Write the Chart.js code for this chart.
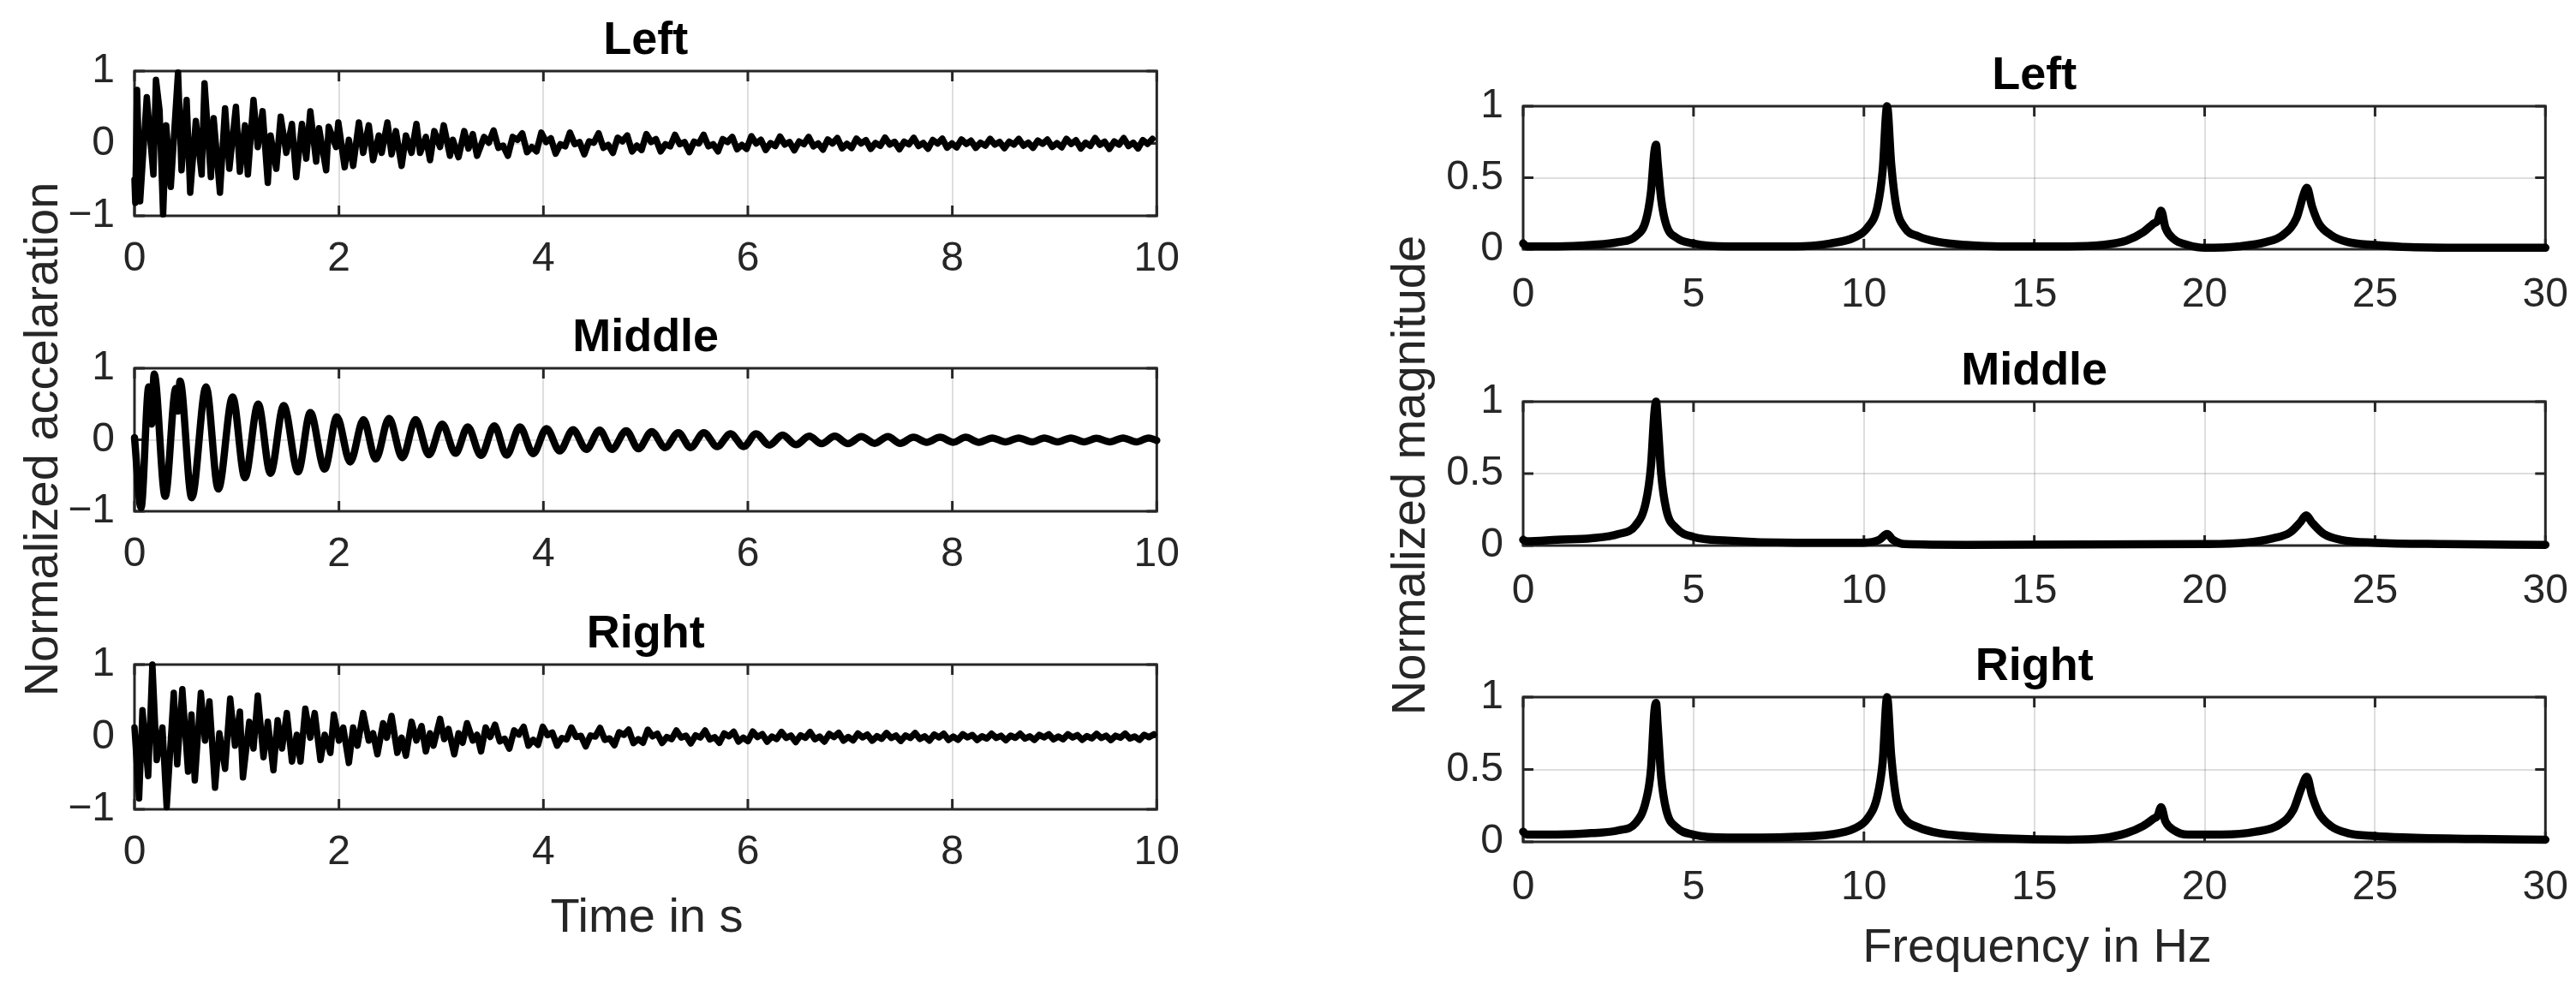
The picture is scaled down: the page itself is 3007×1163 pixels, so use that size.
<!DOCTYPE html>
<html>
<head>
<meta charset="utf-8">
<script src="https://cdn.jsdelivr.net/npm/chart.js@4.4.0/dist/chart.umd.min.js"></script>
<style>
  html, body { margin: 0; padding: 0; background: #fff; }
  body { width: 3007px; height: 1163px; position: relative; overflow: hidden; }
  canvas { position: absolute; }
  .lbl { position: absolute; font-family: 'Liberation Sans', Arial, Helvetica, sans-serif;
         font-size: 56px; line-height: 56px; height: 56px; color: #262626; text-align: center;
         white-space: nowrap; }
</style>
</head>
<body>
<div class="lbl" id="lblTime" style="left:455px; top:1041px; width:600px;">Time in s</div>
<div class="lbl" id="lblFreq" style="left:2078px; top:1076px; width:600px;">Frequency in Hz</div>
<div class="lbl" id="lblAcc" style="left:-352px; top:485px; width:800px; transform:rotate(-90deg);">Normalized accelaration</div>
<div class="lbl" id="lblMag" style="left:1244px; top:527px; width:800px; transform:rotate(-90deg);">Normalized magnitude</div>
<script>
/* ===== Data ===== */

// time axis ticks (s) and frequency axis ticks (Hz)
const timeTicks = [0, 2, 4, 6, 8, 10];
const freqTicks = [0, 5, 10, 15, 20, 25, 30];
const accTicks  = [-1, 0, 1];
const magTicks  = [0, 0.5, 1];
const titles    = ['Left', 'Middle', 'Right'];

// Left sensor, acceleration: first 3.4 s as read peak by peak
const leftHeadT = [0, 0.008, 0.025, 0.055, 0.12, 0.185, 0.21, 0.245, 0.28, 0.31,
  0.355, 0.426, 0.46, 0.51, 0.545, 0.60, 0.657, 0.685, 0.747, 0.774,
  0.836, 0.886, 0.928, 0.992, 1.031, 1.081, 1.109, 1.164, 1.206, 1.253,
  1.304, 1.331, 1.387, 1.43, 1.485, 1.54, 1.582, 1.638, 1.68, 1.72,
  1.777, 1.805, 1.875, 1.90, 1.972, 1.994, 2.056, 2.097, 2.139, 2.195,
  2.237, 2.292, 2.334, 2.39, 2.418, 2.474, 2.515, 2.557, 2.613, 2.655,
  2.71, 2.758, 2.794, 2.85, 2.891, 2.933, 2.989, 3.025, 3.086, 3.114,
  3.17, 3.226, 3.267, 3.309, 3.351, 3.42];
const leftHeadY = [-0.50, -0.82, 0.74, -0.80, 0.64, -0.43, 0.88, 0.46, -0.98, 0.25,
  -0.60, 0.98, -0.37, 0.60, -0.68, 0.31, -0.43, 0.83, -0.465, 0.35,
  -0.68, 0.485, -0.35, 0.505, -0.39, 0.25, -0.43, 0.60, -0.05, 0.445,
  -0.545, 0.11, -0.35, 0.37, -0.13, 0.27, -0.465, 0.27, -0.21, 0.445,
  -0.25, 0.21, -0.37, 0.23, -0.05, 0.29, -0.33, 0.05, -0.31, 0.29,
  -0.13, 0.25, -0.23, 0.11, -0.13, 0.29, -0.15, 0.17, -0.31, 0.11,
  -0.13, 0.27, -0.13, 0.09, -0.23, 0.17, -0.05, 0.25, -0.17, 0.05,
  -0.19, 0.17, -0.07, 0.13, -0.17, 0.09];
// rest of the record, sampled every 0.0467 s from 3.466 s
const leftTailStart = 3.466;
const leftTailStep  = 0.0467;
const leftTailY = [0.01, 0.18, -0.06, -0.03, -0.17, 0.09, 0.05, 0.14, -0.12, -0.05, -0.11, 0.15,
  0.02, 0.07, -0.14, -0.01, -0.04, 0.15, -0.01, 0.02, -0.15, 0.03, 0.01, 0.14, -0.06, -0.02, -0.13, 0.08, 0.03, 0.11, -0.11, -0.03, -0.09, 0.13,
  0.02, 0.06, -0.11, -0.01, -0.04, 0.12, -0.01, 0.02, -0.12, 0.025, 0.0, 0.12, -0.04, -0.01, -0.11, 0.06, 0.02, 0.09, -0.08, -0.02, -0.075, 0.10,
  0.0, 0.05, -0.09, 0.005, -0.035, 0.095, -0.015, 0.02, -0.095, 0.027, -0.01, 0.09, -0.04, 0.0, -0.085, 0.055, 0.0, 0.075, -0.067, -0.005, -0.063,
  0.067, 0.0, 0.045, -0.075, 0.007, -0.033, 0.08, -0.015, 0.022, -0.08, 0.025, -0.013, 0.078, -0.035, 0.006, -0.073, 0.047, -0.001, 0.065, -0.058, 0.0, -0.054,
  0.055, -0.007, 0.038, -0.061, 0.01, -0.03, 0.064, -0.016, 0.022, -0.065, 0.024, -0.015, 0.063, -0.032, 0.01, -0.06, 0.04, -0.006, 0.054, -0.048, 0.005,
  -0.053, 0.063, -0.007, 0.044, -0.07, 0.011, -0.034, 0.074, -0.018, 0.024, -0.075, 0.027, -0.017, 0.073, -0.036, 0.01, -0.069, 0.046, -0.006, 0.062];

// Middle sensor, acceleration (peaks and troughs)
const midT = [0, 0.064, 0.14, 0.168, 0.192, 0.30, 0.405, 0.425, 0.445, 0.56,
  0.70, 0.82, 0.96, 1.08, 1.21, 1.33, 1.46, 1.60, 1.72, 1.86,
  1.98, 2.11, 2.24, 2.36, 2.49, 2.62, 2.75, 2.88, 3.01, 3.14,
  3.26, 3.39, 3.52, 3.64, 3.77, 3.90, 4.03, 4.16, 4.29, 4.42,
  4.55, 4.67, 4.81, 4.93, 5.06, 5.19, 5.32, 5.44, 5.57, 5.70,
  5.83, 5.96, 6.08, 6.21, 6.34, 6.47, 6.60, 6.72, 6.85, 6.98,
  7.11, 7.24, 7.37, 7.49, 7.62, 7.75, 7.88, 8.01, 8.13, 8.26,
  8.39, 8.52, 8.65, 8.78, 8.90, 9.03, 9.16, 9.29, 9.41, 9.54,
  9.67, 9.80, 9.92, 10.0];
const midY = [0.03, -0.95, 0.74, 0.22, 0.92, -0.79, 0.72, 0.40, 0.82, -0.81,
  0.74, -0.69, 0.60, -0.53, 0.50, -0.47, 0.48, -0.45, 0.38, -0.41,
  0.32, -0.31, 0.28, -0.27, 0.30, -0.25, 0.28, -0.21, 0.22, -0.19,
  0.18, -0.22, 0.195, -0.215, 0.18, -0.195, 0.155, -0.155, 0.14, -0.135,
  0.135, -0.135, 0.125, -0.125, 0.115, -0.11, 0.10, -0.11, 0.10, -0.095,
  0.085, -0.095, 0.085, -0.075, 0.065, -0.07, 0.05, -0.055, 0.05, -0.055,
  0.045, -0.05, 0.045, -0.05, 0.035, -0.035, 0.035, -0.035, 0.035, -0.035,
  0.025, -0.03, 0.025, -0.03, 0.025, -0.03, 0.025, -0.03, 0.02, -0.03,
  0.025, -0.03, 0.025, -0.01];

// Right sensor, acceleration: first 3.4 s
const rightHeadT = [0, 0.045, 0.078, 0.134, 0.175, 0.217, 0.273, 0.315, 0.384, 0.418,
  0.468, 0.524, 0.557, 0.59, 0.649, 0.69, 0.733, 0.788, 0.83, 0.886,
  0.936, 0.983, 1.031, 1.061, 1.123, 1.164, 1.206, 1.262, 1.304, 1.359,
  1.40, 1.443, 1.49, 1.54, 1.588, 1.624, 1.671, 1.72, 1.763, 1.819,
  1.861, 1.916, 1.95, 2.0, 2.042, 2.097, 2.139, 2.181, 2.237, 2.292,
  2.334, 2.376, 2.432, 2.468, 2.515, 2.571, 2.613, 2.655, 2.71, 2.758,
  2.808, 2.85, 2.891, 2.925, 2.989, 3.03, 3.072, 3.128, 3.17, 3.21,
  3.253, 3.31, 3.351, 3.39, 3.435];
const rightHeadY = [0.13, -0.85, 0.37, -0.54, 1.0, -0.32, 0.13, -0.97, 0.61, -0.38,
  0.66, -0.48, 0.31, -0.60, 0.61, -0.05, 0.49, -0.70, 0.05, -0.44,
  0.53, -0.12, 0.35, -0.56, 0.21, -0.16, 0.57, -0.28, 0.21, -0.46,
  0.23, -0.16, 0.33, -0.34, 0.03, -0.34, 0.39, -0.01, 0.33, -0.32,
  0.03, -0.22, 0.31, -0.05, 0.13, -0.36, 0.13, -0.12, 0.33, -0.05,
  0.05, -0.24, 0.19, -0.01, 0.29, -0.22, -0.01, -0.26, 0.21, -0.05,
  0.15, -0.20, 0.05, -0.12, 0.25, -0.03, 0.11, -0.24, 0.05, -0.08,
  0.19, -0.05, 0.03, -0.20, 0.13];
const rightTailStart = 3.48;
const rightTailStep  = 0.0467;
const rightTailY = [0.0, 0.17, -0.06, -0.025, -0.16, 0.09, 0.035, 0.14, -0.12, -0.04, -0.11, 0.14,
  0.025, 0.06, -0.12, -0.015, -0.035, 0.13, 0.0, 0.015, -0.13, 0.02, 0.005, 0.125, -0.04, -0.02, -0.115, 0.065, 0.03, 0.10, -0.085, -0.03, -0.08, 0.10,
  0.008, 0.045, -0.083, -0.001, -0.03, 0.089, -0.009, 0.018, -0.09, 0.022, -0.007, 0.088, -0.035, -0.003, -0.081, 0.049, 0.009, 0.071, -0.063, -0.01, -0.058, 0.074,
  -0.002, 0.039, -0.065, 0.006, -0.029, 0.069, -0.013, 0.019, -0.07, 0.022, -0.012, 0.068, -0.031, 0.005, -0.064, 0.041, -0.001, 0.057, -0.051, 0.0, -0.048,
  0.047, -0.006, 0.033, -0.052, 0.01, -0.026, 0.054, -0.015, 0.019, -0.055, 0.021, -0.013, 0.054, -0.027, 0.009, -0.05, 0.034, -0.006, 0.045, -0.041, 0.005, -0.039,
  0.038, -0.006, 0.027, -0.042, 0.009, -0.022, 0.044, -0.013, 0.016, -0.045, 0.018, -0.012, 0.044, -0.023, 0.008, -0.041, 0.028, -0.006, 0.037, -0.034, 0.005,
  -0.032, 0.036, -0.008, 0.025, -0.04, 0.011, -0.02, 0.042, -0.015, 0.018, -0.043, 0.016, -0.01, 0.046, -0.021, 0.006, -0.039, 0.03, -0.004, 0.035];

// Spectra (normalized magnitude vs Hz)
const specLeftF = [0, 0.1, 1, 2, 2.8, 3.3, 3.6, 3.75, 3.85, 3.9, 3.95, 4.05, 4.2, 4.5, 5, 6, 7, 8, 9, 9.7,
  10.1, 10.4, 10.55, 10.68, 10.8, 10.95, 11.2, 11.6, 12.2, 13, 14, 16, 17, 17.7, 18.2, 18.5, 18.62, 18.72, 18.85, 19.1,
  19.5, 20, 21, 21.8, 22.3, 22.7, 22.9, 23.0, 23.15, 23.35, 23.7, 24.2, 25, 26, 28, 30];
const specLeftM = [0.04, 0.02, 0.02, 0.03, 0.05, 0.09, 0.2, 0.4, 0.68, 0.73, 0.6, 0.35, 0.17, 0.08, 0.04, 0.02, 0.02, 0.02, 0.04, 0.08,
  0.15, 0.3, 0.55, 1.0, 0.6, 0.3, 0.15, 0.09, 0.05, 0.03, 0.02, 0.02, 0.03, 0.06, 0.12, 0.18, 0.2, 0.27, 0.15, 0.07,
  0.03, 0.01, 0.02, 0.05, 0.1, 0.22, 0.38, 0.43, 0.3, 0.18, 0.1, 0.05, 0.03, 0.015, 0.01, 0.01];

const specMidF = [0, 0.1, 1, 2, 2.8, 3.3, 3.6, 3.75, 3.85, 3.9, 3.95, 4.05, 4.2, 4.5, 5, 6, 8, 10,
  10.45, 10.68, 10.85, 11.2, 13, 20, 21.2, 22, 22.5, 22.8, 22.98, 23.15, 23.5, 24, 25, 27, 30];
const specMidM = [0.04, 0.03, 0.04, 0.05, 0.08, 0.14, 0.3, 0.55, 0.92, 1.0, 0.85, 0.5, 0.25, 0.12, 0.06, 0.035, 0.02, 0.02,
  0.04, 0.08, 0.04, 0.01, 0.005, 0.01, 0.02, 0.05, 0.09, 0.16, 0.21, 0.16, 0.08, 0.04, 0.02, 0.01, 0.005];

const specRightF = [0, 0.1, 1, 2, 2.8, 3.3, 3.6, 3.75, 3.85, 3.9, 3.95, 4.05, 4.2, 4.5, 5, 6, 7, 8, 9, 9.7,
  10.1, 10.4, 10.55, 10.68, 10.8, 10.95, 11.2, 11.6, 12.2, 13, 14, 16, 17, 17.7, 18.2, 18.5, 18.62, 18.72, 18.85, 19.1,
  19.5, 20.5, 21.5, 22.2, 22.6, 22.85, 23.0, 23.15, 23.35, 23.7, 24.2, 25, 26, 28, 30];
const specRightM = [0.07, 0.05, 0.05, 0.06, 0.08, 0.13, 0.28, 0.5, 0.9, 0.96, 0.8, 0.45, 0.22, 0.1, 0.05, 0.03, 0.03, 0.035, 0.05, 0.09,
  0.16, 0.32, 0.55, 1.0, 0.6, 0.3, 0.16, 0.1, 0.06, 0.04, 0.025, 0.015, 0.025, 0.06, 0.11, 0.16, 0.18, 0.24, 0.14, 0.08,
  0.05, 0.05, 0.07, 0.12, 0.22, 0.38, 0.45, 0.32, 0.2, 0.11, 0.06, 0.04, 0.03, 0.02, 0.015];

/* ===== Helpers ===== */
const FONT = "'Liberation Sans', Arial, Helvetica, sans-serif";
const INK  = '#262626';

function pairs(ts, ys) { return ts.map((t, i) => ({ x: t, y: ys[i] })); }
function sampled(t0, dt, ys) { return ys.map((y, i) => ({ x: t0 + i * dt, y: y })); }
function minusFmt(v) { return v < 0 ? '\u2212' + Math.abs(v) : String(v); }

// MATLAB-like box, inward ticks and title
const matlabAxes = {
  id: 'matlabAxes',
  beforeDatasetsDraw(chart, args, opts) {
    const { ctx, chartArea: a, scales } = chart;
    ctx.save();
    ctx.strokeStyle = INK;
    ctx.lineWidth = 3;
    ctx.strokeRect(a.left, a.top, a.right - a.left, a.bottom - a.top);
    const L = 12;
    ctx.beginPath();
    opts.xTicks.forEach(v => {
      const px = scales.x.getPixelForValue(v);
      ctx.moveTo(px, a.bottom); ctx.lineTo(px, a.bottom - L);
      ctx.moveTo(px, a.top);    ctx.lineTo(px, a.top + L);
    });
    opts.yTicks.forEach(v => {
      const py = scales.y.getPixelForValue(v);
      ctx.moveTo(a.left, py);  ctx.lineTo(a.left + L, py);
      ctx.moveTo(a.right, py); ctx.lineTo(a.right - L, py);
    });
    ctx.stroke();
    ctx.restore();
  },
  afterDraw(chart, args, opts) {
    const { ctx, chartArea: a } = chart;
    ctx.save();
    ctx.font = 'bold 54px ' + FONT;
    ctx.fillStyle = '#000';
    ctx.textAlign = 'center';
    ctx.textBaseline = 'alphabetic';
    ctx.fillText(opts.title, (a.left + a.right) / 2, a.top - 20);
    ctx.restore();
  },
};

const PAD_TOP = 80, PAD_RIGHT = 45, Y_W = 110, X_H = 75;

function makeChart(rect, data, ax, title, line) {
  const canvas = document.createElement('canvas');
  canvas.width  = Y_W + rect.w + PAD_RIGHT;
  canvas.height = PAD_TOP + rect.h + X_H;
  canvas.style.left = (rect.x - Y_W) + 'px';
  canvas.style.top  = (rect.y - PAD_TOP) + 'px';
  document.body.insertBefore(canvas, document.body.firstChild);

  const tickFont = { family: FONT, size: 48 };
  const grid = { color: 'rgba(0,0,0,0.13)', lineWidth: 2, drawTicks: false };

  new Chart(canvas, {
    type: 'line',
    data: {
      datasets: [{
        data: data,
        borderColor: '#000',
        borderWidth: line.width,
        pointRadius: 0,
        tension: 0,
        cubicInterpolationMode: line.smooth ? 'monotone' : 'default',
        borderJoinStyle: 'round',
        borderCapStyle: 'round',
        fill: false,
        clip: 12,
      }],
    },
    options: {
      responsive: false,
      animation: false,
      devicePixelRatio: 1,
      layout: { padding: { top: PAD_TOP, right: PAD_RIGHT, left: 0, bottom: 0 } },
      plugins: {
        legend: { display: false },
        tooltip: { enabled: false },
        matlabAxes: { title: title, xTicks: ax.xTicks, yTicks: ax.yTicks },
      },
      scales: {
        x: {
          type: 'linear',
          min: ax.xTicks[0], max: ax.xTicks[ax.xTicks.length - 1],
          afterBuildTicks: s => { s.ticks = ax.xTicks.map(v => ({ value: v })); },
          afterFit: s => { s.height = X_H; },
          ticks: { font: tickFont, color: INK, padding: ax.xPad, maxRotation: 0, autoSkip: false,
                   callback: v => minusFmt(v) },
          grid: grid,
          border: { display: false },
        },
        y: {
          type: 'linear',
          min: ax.yTicks[0], max: ax.yTicks[ax.yTicks.length - 1],
          afterBuildTicks: s => { s.ticks = ax.yTicks.map(v => ({ value: v })); },
          afterFit: s => { s.width = Y_W; },
          ticks: { font: tickFont, color: INK, padding: 23, autoSkip: false,
                   callback: v => minusFmt(v) },
          grid: grid,
          border: { display: false },
        },
      },
    },
    plugins: [matlabAxes],
  });
}

/* ===== Build the six panels ===== */
const timeAx = { xTicks: timeTicks, yTicks: accTicks, xPad: 22 };
const freqAx = { xTicks: freqTicks, yTicks: magTicks, xPad: 25 };

const leftData  = pairs(leftHeadT, leftHeadY).concat(sampled(leftTailStart, leftTailStep, leftTailY));
const rightData = pairs(rightHeadT, rightHeadY).concat(sampled(rightTailStart, rightTailStep, rightTailY));
const midData   = pairs(midT, midY);

makeChart({ x: 157, y: 83,  w: 1197, h: 169 }, leftData,  timeAx, titles[0], { width: 7.5 });
makeChart({ x: 157, y: 430, w: 1197, h: 167 }, midData,   timeAx, titles[1], { width: 8.5, smooth: true });
makeChart({ x: 157, y: 776, w: 1197, h: 169 }, rightData, timeAx, titles[2], { width: 7.5 });

makeChart({ x: 1778, y: 124, w: 1200, h: 167 }, pairs(specLeftF, specLeftM),   freqAx, titles[0], { width: 9.5, smooth: true });
makeChart({ x: 1778, y: 469, w: 1200, h: 168 }, pairs(specMidF, specMidM),     freqAx, titles[1], { width: 9.5, smooth: true });
makeChart({ x: 1778, y: 814, w: 1200, h: 169 }, pairs(specRightF, specRightM), freqAx, titles[2], { width: 9.5, smooth: true });
</script>
</body>
</html>
